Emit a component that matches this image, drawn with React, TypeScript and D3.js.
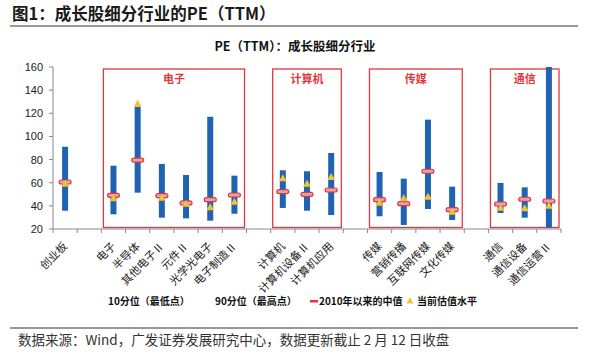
import React from "react";
import * as d3 from "d3";

const categories = ["创业板", "", "电子", "半导体", "其他电子Ⅱ", "元件Ⅱ", "光学光电子", "电子制造Ⅱ", "", "计算机", "计算机设备Ⅱ", "计算机应用", "", "传媒", "营销传播", "互联网传媒", "文化传媒", "", "通信", "通信设备", "通信运营Ⅱ"];
const p10 = [35.8, null, 32.7, 51.4, 29.8, 29.2, 27.2, 33.2, null, 38.2, 35.8, 32.1, null, 31, 23.5, 37.3, 27.8, null, 33.8, 29.8, 21.1];
const p90 = [91.1, null, 74.7, 125.7, 76.2, 66.7, 117, 66.1, null, 70.7, 69.9, 85.7, null, 69.3, 63.5, 114.5, 56.6, null, 59.8, 56, 160];
const median = [60.6, null, 49.1, 79.6, 48.8, 42.5, 45.3, 49.4, null, 52.3, 50, 53.7, null, 45.3, 41.9, 69.9, 36.7, null, 41.6, 45.7, 44.2];
const current = [59, null, 46.5, 128.3, 47, 41.9, 38.8, 43.6, null, 63.8, 59.2, 64.9, null, 42.7, 46.5, 47.9, 35, null, 38.4, 37.9, 40.1];
const groups = [
  { name: "电子", from: 2, to: 7 },
  { name: "计算机", from: 9, to: 11 },
  { name: "传媒", from: 13, to: 16 },
  { name: "通信", from: 18, to: 20 },
];
const yTicks = [20, 40, 60, 80, 100, 120, 140, 160];

const CJK = "'Noto Sans CJK SC', 'Noto Sans', sans-serif";
const LAT = "'Liberation Sans', Arial, sans-serif";

export default function App() {
  const left = 53, right = 561, top = 67, bottom = 229;
  const x = d3.scaleBand<number>().domain(d3.range(categories.length)).range([left, right]).padding(0);
  const y = d3.scaleLinear().domain([20, 160]).range([bottom, top]);
  const bw = 6;
  const blue = "#1F63B2";
  const red = "#E0383E";

  return (
    <svg width={600} height={355} style={{ position: "absolute", left: 0, top: 0, background: "#fff" }}>
      {/* Title */}
      <text x={12} y={20} fontFamily={CJK} fontWeight="bold" fontSize={16.5} fill="#1a1a1a">
        图1：成长股细分行业的PE（TTM）
      </text>
      <line x1={10} x2={578} y1={26} y2={26} stroke="#333" strokeWidth={1.2} />
      <text x={295} y={51} textAnchor="middle" fontFamily={CJK} fontWeight="bold" fontSize={12.5} fill="#111">
        PE（TTM）：成长股细分行业
      </text>

      {/* group boxes */}
      {groups.map((g) => {
        const x0 = (x(g.from) as number) + 2;
        const x1 = (x(g.to) as number) + x.bandwidth() - 2;
        return (
          <g key={g.name}>
            <rect x={x0} y={69} width={x1 - x0} height={bottom - 1.5 - 69} fill="none" stroke={red} strokeWidth={1.3} />
            <text x={(x0 + x1) / 2} y={83} textAnchor="middle" fontFamily={CJK} fontWeight="bold" fontSize={11} fill={red}>
              {g.name}
            </text>
          </g>
        );
      })}

      {/* axes */}
      <line x1={left} x2={left} y1={top} y2={bottom} stroke="#888" />
      {yTicks.map((t) => (
        <g key={t}>
          <line x1={left - 4} x2={left} y1={y(t)} y2={y(t)} stroke="#888" />
          <text x={left - 10} y={y(t) + 4} textAnchor="end" fontFamily={LAT} fontSize={11} fill="#222">
            {t}
          </text>
        </g>
      ))}
      <line x1={left} x2={right} y1={bottom} y2={bottom} stroke="#888" />
      {d3.range(categories.length + 1).map((i) => {
        const xx = left + i * x.step();
        return <line key={i} x1={xx} x2={xx} y1={bottom} y2={bottom + 4} stroke="#888" />;
      })}

      {/* bars */}
      {categories.map((c, i) => {
        if (p10[i] == null) return null;
        const cx = (x(i) as number) + x.bandwidth() / 2;
        const yt = Math.max(y(p90[i] as number), top);
        const yb = y(p10[i] as number);
        const ym = y(median[i] as number);
        const yc = y(current[i] as number);
        return (
          <g key={i}>
            <rect x={cx - bw / 2} y={yt} width={bw} height={yb - yt} fill={blue} />
            <rect x={cx - 6} y={ym - 2} width={12} height={4} rx={2} fill="#E8A0A8" stroke={red} strokeWidth={1.2} />
            <path d={`M${cx},${yc - 4} L${cx + 4},${yc + 3} L${cx - 4},${yc + 3} Z`} fill="#F2C230" />
          </g>
        );
      })}

      {/* x labels */}
      {categories.map((c, i) => {
        if (!c) return null;
        const cx = (x(i) as number) + x.bandwidth() / 2 + 3;
        return (
          <text key={i} transform={`translate(${cx},${bottom + 18}) rotate(-45)`} textAnchor="end" fontFamily={CJK} fontSize={11} fill="#222">
            {c}
          </text>
        );
      })}

      {/* legend */}
      <g fontFamily={CJK} fontWeight="bold" fontSize={10} fill="#111">
        <text x={108} y={305}>10分位（最低点）</text>
        <text x={215} y={305}>90分位（最高点）</text>
        <rect x={310} y={300} width={8} height={2.5} fill={red} />
        <text x={319} y={305}>2010年以来的中值</text>
        <path d="M410,297.5 L413.5,303.5 L406.5,303.5 Z" fill="#F2C230" />
        <text x={417} y={305}>当前估值水平</text>
      </g>

      {/* footer */}
      <line x1={10} x2={578} y1={328} y2={328} stroke="#333" strokeWidth={1.2} />
      <text x={18} y={345} fontFamily={CJK} fontSize={13.5} fill="#333">
        数据来源：Wind，广发证券发展研究中心，数据更新截止 2 月 12 日收盘
      </text>
    </svg>
  );
}
